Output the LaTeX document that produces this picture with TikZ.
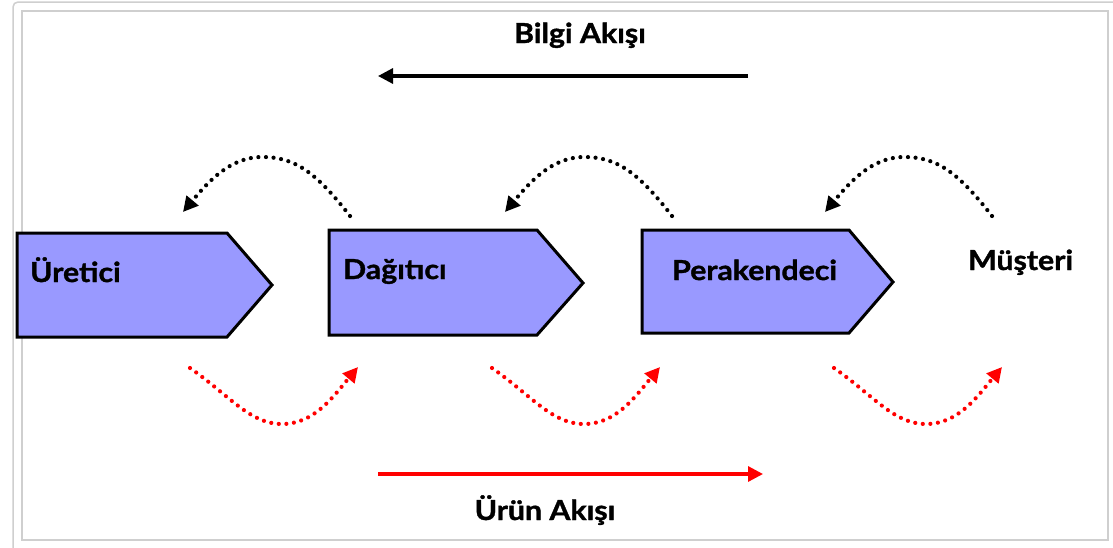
\documentclass[tikz,border=0pt]{standalone}
\usepackage{fontspec}
\setmainfont{Lato}[BoldFeatures={FakeBold=1.3,FakeStretch=1.1}]
\usetikzlibrary{arrows.meta}
\definecolor{boxfill}{HTML}{9999FF}
\definecolor{framegray}{HTML}{CFCFCF}
\tikzset{
  lbl/.style={font=\fontsize{27.5}{30}\selectfont\bfseries, inner sep=0pt, anchor=base west},
  chevron/.style={draw=black, line width=3pt, fill=boxfill, line join=miter},
  flow/.style={line width=3.2pt, -{Triangle[length=15pt,width=15pt]}},
  dotline/.style={line width=4.2pt, line cap=round, dash pattern=on 0pt off 7.6pt, -{Triangle[length=15pt,width=15pt]}, shorten >=0pt},
}
\begin{document}
\begin{tikzpicture}[x=1pt,y=-1pt]
\useasboundingbox (0,0) rectangle (1113,547);
\fill[white] (0,0) rectangle (1113,547);
% frames
\draw[framegray, line width=1.5pt, rounded corners=5pt] (13,560) -- (13,2) -- (1125,2);
\draw[framegray, line width=1.5pt] (22,11) rectangle (1108,540);
% chevrons
\draw[chevron] (17,233) -- (227,233) -- (272,285) -- (227,337) -- (17,337) -- cycle;
\draw[chevron] (329,230) -- (537,230) -- (583,283) -- (537,335) -- (329,335) -- cycle;
\draw[chevron] (642,230) -- (849,230) -- (893,282) -- (849,333) -- (642,333) -- cycle;
% labels
\node[lbl] (ur) at (30,282) {Üretici};
\node[lbl] (da) at (343,279) {Dağıtıcı};
\node[lbl] (pe) at (672,280) {Perakendeci};
\node[lbl] (mu) at (968,270) {Müşteri};
\node[lbl, anchor=base] (bilgi) at (580,43) {Bilgi Akışı};
\node[lbl, anchor=base] (urun) at (545,520) {Ürün Akışı};
% straight arrows
\coordinate (bs) at (748,76); \coordinate (be) at (378,76);
\coordinate (rs) at (378,474); \coordinate (re) at (763,474);
\draw[flow, black] (bs) -- (be);
\draw[flow, red] (rs) -- (re);
% dotted info curves (black)
\foreach \s/\n in {350/a, 672/b, 992/c}{
  \coordinate (k\n1) at (\s,216);
  \coordinate (k\n2) at (\s-88,157);
  \coordinate (k\n3) at (\s-167,212);
  \draw[dotline, black] (k\n1) .. controls +(-35,-45) and +(32,0) .. (k\n2) .. controls +(-32,0) and +(25,-30) .. (k\n3);
}
% dotted product curves (red)
\foreach \s/\n in {190/a, 492/b, 834/c}{
  \coordinate (r\n1) at (\s,368);
  \coordinate (r\n2) at (\s+92,424);
  \coordinate (r\n3) at (\s+168,367);
  \draw[dotline, red] (r\n1) .. controls +(40,28) and +(-32,0) .. (r\n2) .. controls +(32,0) and +(-25,30) .. (r\n3);
}
\end{tikzpicture}
\end{document}
